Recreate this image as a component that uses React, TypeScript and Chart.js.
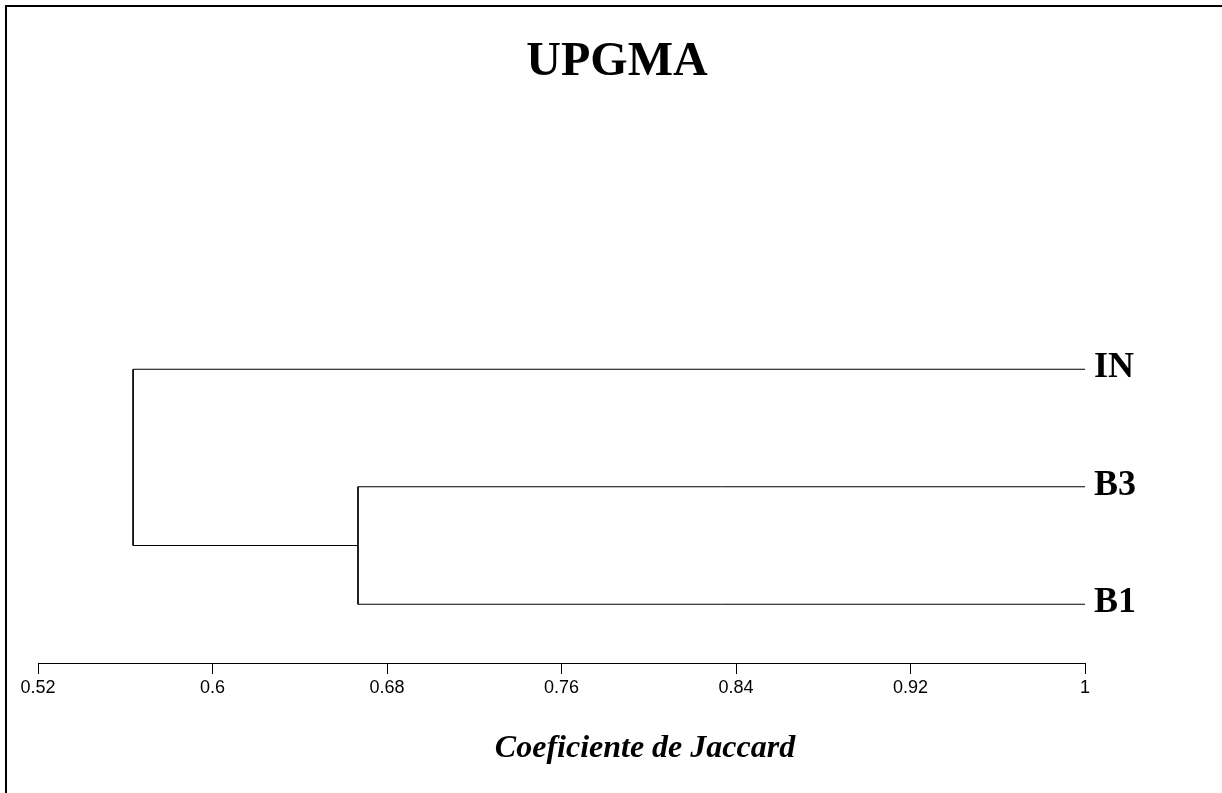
import React, { useEffect, useRef } from "react";
import { Chart, registerables } from "chart.js";

Chart.register(...registerables);

// Leaves (top to bottom) and their vertical order positions
const leafLabels = ["IN", "B3", "B1"];
const leafPositions = [3, 2, 1];
// Similarity at which each leaf ends (all leaves at 1)
const leafSimilarity = [1, 1, 1];
// Merges: [left child pos, right child pos, similarity]
const mergeSimilarity = [0.6667, 0.5636]; // (B3,B1), (IN,(B3,B1))
const tickValues = [0.52, 0.6, 0.68, 0.76, 0.84, 0.92, 1];
const tickLabels = ["0.52", "0.6", "0.68", "0.76", "0.84", "0.92", "1"];
const chartTitle = "UPGMA";
const axisTitle = "Coeficiente de Jaccard";

type Pt = { x: number; y: number };

function buildSegments(): Pt[][] {
  const segs: Pt[][] = [];
  // First merge: B3 + B1
  const m1 = mergeSimilarity[0];
  const m1Center = (leafPositions[1] + leafPositions[2]) / 2;
  // Second merge: IN + cluster
  const m2 = mergeSimilarity[1];
  // leaf branches
  segs.push([{ x: leafSimilarity[0], y: leafPositions[0] }, { x: m2, y: leafPositions[0] }]);
  segs.push([{ x: leafSimilarity[1], y: leafPositions[1] }, { x: m1, y: leafPositions[1] }]);
  segs.push([{ x: leafSimilarity[2], y: leafPositions[2] }, { x: m1, y: leafPositions[2] }]);
  // merge 1 vertical
  segs.push([{ x: m1, y: leafPositions[1] }, { x: m1, y: leafPositions[2] }]);
  // merge 1 stub to merge 2
  segs.push([{ x: m1, y: m1Center }, { x: m2, y: m1Center }]);
  // merge 2 vertical
  segs.push([{ x: m2, y: leafPositions[0] }, { x: m2, y: m1Center }]);
  return segs;
}

const textPlugin = {
  id: "dendroText",
  afterDraw(chart: any) {
    const ctx = chart.ctx;
    const area = chart.chartArea;
    const yScale = chart.scales.y;
    ctx.save();
    ctx.fillStyle = "#000";
    // title
    ctx.font = "bold 48px 'Liberation Serif', 'Times New Roman', serif";
    ctx.textAlign = "center";
    ctx.textBaseline = "alphabetic";
    ctx.fillText(chartTitle, 617, 75);
    // leaf labels
    ctx.font = "bold 36px 'Liberation Serif', 'Times New Roman', serif";
    ctx.textAlign = "left";
    leafLabels.forEach((lab, i) => {
      const py = yScale.getPixelForValue(leafPositions[i]);
      ctx.fillText(lab, area.right + 9, py + 8);
    });
    // axis title
    ctx.font = "italic bold 32px 'Liberation Serif', 'Times New Roman', serif";
    ctx.textAlign = "center";
    ctx.fillText(axisTitle, 645, 757);
    ctx.restore();
  },
};

export default function App() {
  const ref = useRef<HTMLCanvasElement | null>(null);
  useEffect(() => {
    if (!ref.current) return;
    const segs = buildSegments();
    const chart = new Chart(ref.current, {
      type: "scatter",
      data: {
        datasets: segs.map((s) => ({
          data: s,
          showLine: true,
          borderColor: "#000",
          borderWidth: 1,
          pointRadius: 0,
          pointHoverRadius: 0,
          fill: false,
        })),
      },
      options: {
        animation: false,
        responsive: false,
        maintainAspectRatio: false,
        events: [],
        layout: { padding: { left: 38, right: 137, top: 193, bottom: 0 } },
        plugins: {
          legend: { display: false },
          tooltip: { enabled: false },
          title: { display: false },
        },
        scales: {
          x: {
            type: "linear",
            min: 0.52,
            max: 1,
            position: "bottom",
            afterFit: (scale: any) => {
              scale.height = 130;
            },
            afterBuildTicks: (scale: any) => {
              scale.ticks = tickValues.map((v) => ({ value: v }));
            },
            ticks: {
              color: "#000",
              padding: 3,
              maxRotation: 0,
              autoSkip: false,
              font: { family: "'Liberation Sans', Arial, sans-serif", size: 18 },
              callback: (v: any) => {
                const i = tickValues.findIndex((t) => Math.abs(t - Number(v)) < 1e-9);
                return i >= 0 ? tickLabels[i] : "";
              },
            },
            grid: {
              drawOnChartArea: false,
              drawTicks: true,
              tickLength: 11,
              color: "#000",
              lineWidth: 1,
            },
            border: { display: true, color: "#000", width: 1 },
          },
          y: {
            type: "linear",
            min: 0.5,
            max: 4.5,
            display: false,
          },
        },
      },
      plugins: [textPlugin],
    });
    return () => chart.destroy();
  }, []);

  return (
    <div
      style={{
        position: "fixed",
        left: 0,
        top: 0,
        width: 1222,
        height: 793,
        background: "#fff",
        overflow: "hidden",
      }}
    >
      <canvas
        ref={ref}
        width={1222}
        height={793}
        style={{ position: "absolute", left: 0, top: 0, width: 1222, height: 793 }}
      />
      <div
        style={{
          position: "absolute",
          left: 5,
          top: 5,
          width: 1300,
          height: 900,
          borderLeft: "2px solid #000",
          borderTop: "2px solid #000",
          pointerEvents: "none",
        }}
      />
    </div>
  );
}
